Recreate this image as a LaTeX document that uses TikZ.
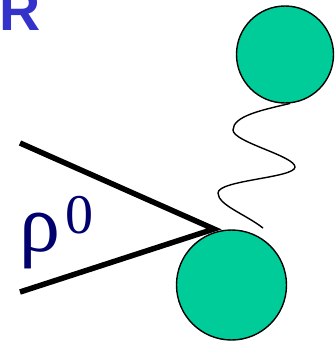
\documentclass[tikz,border=0pt]{standalone}
\usepackage{fontspec}
\setmainfont{Liberation Serif}
\setsansfont{Liberation Sans}
\usepackage{xcolor}
\definecolor{ballgreen}{RGB}{0,204,153}
\definecolor{rhonavy}{RGB}{0,0,110}
\definecolor{titleblue}{RGB}{51,51,204}
\usetikzlibrary{positioning}
\tikzset{
  ball/.style={circle, draw, line width=1.4pt, fill=ballgreen, inner sep=0pt},
  leg/.style={line width=5.5pt},
  wave/.style={line width=1.4pt},
  rholabel/.style={anchor=base west, inner sep=0pt, text=rhonavy},
}

\begin{document}
\begin{tikzpicture}[x=1pt, y=-1pt]
  \clip (0,0) rectangle (335,346);
  \useasboundingbox (0,0) rectangle (335,346);

  % Title letter (cut at the top)
  \node[anchor=base west, inner sep=0pt, text=titleblue,
        font=\fontsize{57}{57}\selectfont\sffamily\bfseries] (title) at (-1,30) {R};

  % Balls
  \node[ball, minimum size=110pt] (lowball) at (231.5,285) {};
  \node[ball, minimum size=97pt] (topball) at (285,54.5) {};

  % Incoming legs
  \coordinate (apex) at (214,229);
  \coordinate (legtop) at (20,143);
  \coordinate (legbot) at (20,292);
  \draw[leg] (legtop) -- (apex) -- (legbot);

  \node[rholabel, font=\fontsize{82}{82}\selectfont] (rho) at (19,251) {ρ};
  \node[rholabel, font=\fontsize{56}{56}\selectfont] (charge) at (65.5,233) {0};

  % Emitted wave
  \coordinate (waveend) at (263,228);
  \draw[wave] (topball.-84)
    .. controls (262,110) and (233,116) .. (233,130)
    .. controls (233,142) and (295,156) .. (295,167)
    .. controls (295,178) and (218,180) .. (218,193)
    .. controls (218,205) and (245,214) .. (waveend);
\end{tikzpicture}
\end{document}
